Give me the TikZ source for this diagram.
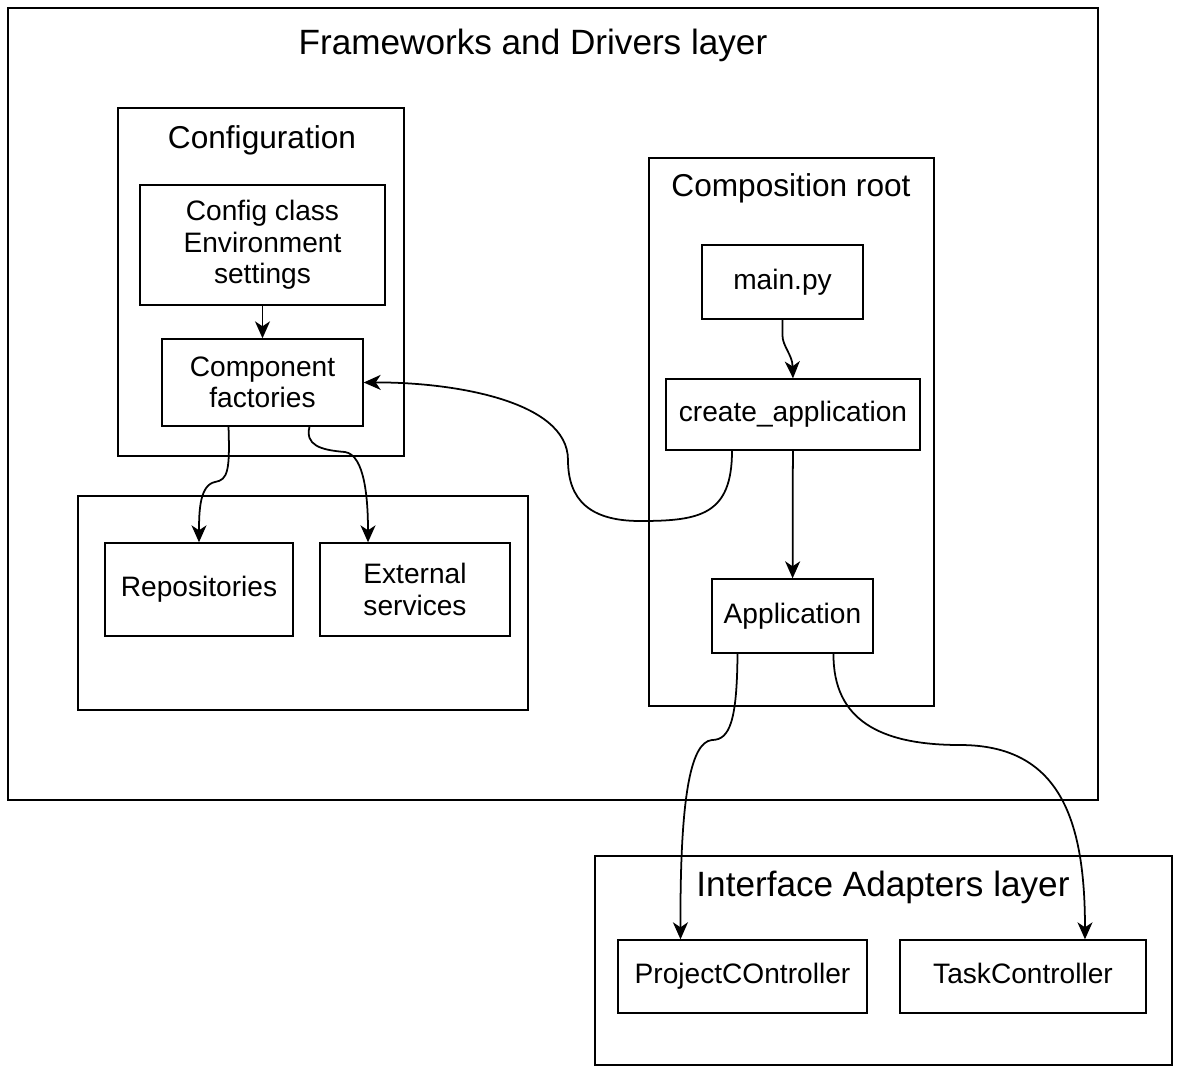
\documentclass[tikz,border=0pt]{standalone}
\usepackage{fontspec}
\setmainfont{Liberation Sans}
\usepackage{tikz}
\usetikzlibrary{arrows.meta, positioning}

\begin{document}
\begin{tikzpicture}[
    x=0.02cm, y=-0.02cm,
    layer/.style={rectangle, draw, line width=0.8pt, inner sep=0pt},
    group/.style={rectangle, draw, line width=0.8pt, inner sep=0pt},
    box/.style={rectangle, draw, line width=0.8pt, inner sep=0pt, align=center, font=\fontsize{16}{18}\selectfont},
    linebox/.style={box, text height=12pt, text depth=3.5pt},
    layertitle/.style={font=\fontsize{20}{24}\selectfont},
    grouptitle/.style={font=\fontsize{18}{22}\selectfont},
    arrow/.style={-{Stealth[length=3.4mm, width=3mm, inset=1mm]}, line width=1pt}
]
\useasboundingbox (0,0) rectangle (1181,1073);

% Layers
\node[layer, minimum width=21.8cm, minimum height=15.84cm] (fwlayer) at (553,404) {};
\node[layertitle] (fwtitle) at (533,45) {Frameworks and Drivers layer};
\node[layer, minimum width=11.54cm, minimum height=4.18cm] (iflayer) at (883.5,960.5) {};
\node[layertitle] (iftitle) at (883,887) {Interface Adapters layer};

% Configuration group
\node[group, minimum width=5.72cm, minimum height=6.96cm] (cfggroup) at (261,282) {};
\node[grouptitle] (cfgtitle) at (262,140) {Configuration};
\node[box, minimum width=4.9cm, minimum height=2.4cm] (config) at (262.5,245) {Config class\\Environment\\settings};
\node[box, minimum width=4.02cm, minimum height=1.74cm] (factory) at (262.5,382.5) {Component\\factories};

% Infrastructure group
\node[group, minimum width=9cm, minimum height=4.28cm] (infragroup) at (303,603) {};
\node[linebox, minimum width=3.76cm, minimum height=1.86cm] (repos) at (199,589.5) {Repositories};
\node[box, minimum width=3.8cm, minimum height=1.86cm] (extsvc) at (415,589.5) {External\\services};

% Composition root group
\node[group, minimum width=5.7cm, minimum height=10.96cm] (rootgroup) at (791.5,432) {};
\node[grouptitle] (roottitle) at (791,188) {Composition root};
\node[linebox, minimum width=3.22cm, minimum height=1.48cm] (mainpy) at (782.5,282) {main.py};
\node[linebox, minimum width=5.08cm, minimum height=1.42cm] (create) at (793,414.5) {create\_application};
\node[linebox, minimum width=3.22cm, minimum height=1.48cm] (app) at (792.5,616) {Application};

% Controllers
\node[linebox, minimum width=4.98cm, minimum height=1.46cm] (projctl) at (742.5,976.5) {ProjectCOntroller};
\node[linebox, minimum width=4.92cm, minimum height=1.46cm] (taskctl) at (1023,976.5) {TaskController};

% Arrows
\draw[arrow] (config) -- (factory);
\draw[arrow] (mainpy.south) -- ++(0,16) .. controls +(0,10) and +(0,-10) .. ++(10,30) -- (create.north);
\draw[arrow] (create) -- (app);
\draw[arrow] ([xshift=-1.22cm]create.south) .. controls (732,515) and (700,521) .. (640,521)
    .. controls (590,521) and (568,500) .. (568,460)
    .. controls (568,400) and (450,382) .. (factory.east);
\draw[arrow] ([xshift=-0.68cm]factory.south) .. controls (230,470) and (228,480) .. (215,482)
    .. controls (200,485) and (199,510) .. (repos.north);
\draw[arrow] ([xshift=0.94cm]factory.south) .. controls (305,445) and (320,450) .. (345,452)
    .. controls (365,455) and (368,500) .. ([xshift=-0.94cm]extsvc.north);
\draw[arrow] ([xshift=-1.1cm]app.south) .. controls (737,720) and (730,740) .. (712,740)
    .. controls (690,742) and (680,800) .. ([xshift=-1.24cm]projctl.north);
\draw[arrow] ([xshift=0.82cm]app.south) .. controls (833,720) and (880,745) .. (960,745)
    .. controls (1060,745) and (1085,820) .. ([xshift=1.24cm]taskctl.north);

\end{tikzpicture}
\end{document}
